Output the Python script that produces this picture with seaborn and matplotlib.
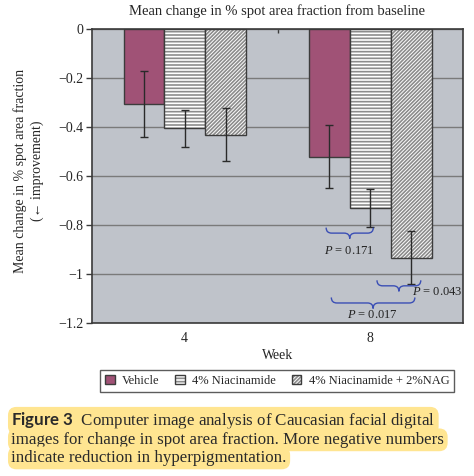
import numpy as np
import pandas as pd
import matplotlib
matplotlib.use('Agg')
import matplotlib.pyplot as plt
import seaborn as sns
from matplotlib.colors import to_rgba
from matplotlib.path import Path
from matplotlib.patches import PathPatch
from matplotlib.ticker import MultipleLocator, FuncFormatter

# values
weeks = ['4', '8']
treatments = ['Vehicle', '4% Niacinamide', '4% Niacinamide + 2%NAG']
vehicle = [-0.305, -0.52]
niacinamide = [-0.405, -0.73]
niacinamide_nag = [-0.432, -0.932]
vehicle_err = [0.135, 0.13]
niacinamide_err = [0.075, 0.077]
niacinamide_nag_err = [0.108, 0.107]

# week 8 pairwise comparisons (treatment index a, treatment index b, P)
pairs = [(0, 1), (1, 2), (0, 2)]
p_values = [0.171, 0.043, 0.017]

caption = ['Computer image analysis of Caucasian facial digital',
           'images for change in spot area fraction. More negative numbers',
           'indicate reduction in hyperpigmentation.']

means = [vehicle, niacinamide, niacinamide_nag]
errs = [vehicle_err, niacinamide_err, niacinamide_nag_err]
df = pd.DataFrame({
    'week': [w for _ in treatments for w in weeks],
    'treatment': [t for t in treatments for _ in weeks],
    'change': [v for m in means for v in m],
})

sns.set_theme(style='white')
plt.rcParams['font.family'] = ['Liberation Serif', 'DejaVu Serif']
plt.rcParams['mathtext.fontset'] = 'custom'
plt.rcParams['mathtext.rm'] = 'Liberation Serif'
plt.rcParams['mathtext.it'] = 'Liberation Serif:italic'
plt.rcParams['mathtext.bf'] = 'Lato:bold'
plt.rcParams['hatch.linewidth'] = 1.2

fig = plt.figure(figsize=(4.74, 4.76), dpi=100)
ax = fig.add_axes([0.194, 0.321, 0.783, 0.618])

bar_colors = ['#A05276', 'white', 'white']
sns.barplot(data=df, x='week', y='change', hue='treatment', order=weeks,
            hue_order=treatments, palette=bar_colors, saturation=1,
            width=0.66, errorbar=None, edgecolor='#3c3c3c', linewidth=1.0,
            legend=False, ax=ax)

bars = list(ax.containers)
hatches = ['', '-----', '/////////']
hatch_grey = to_rgba('#8c8c8c')
centers = []
for cont, hatch, m, e in zip(bars, hatches, means, errs):
    xs = []
    for p in cont.patches:
        p.set_hatch(hatch)
        if hasattr(p, 'set_hatchcolor'):
            p.set_hatchcolor(hatch_grey)
        else:
            p._hatch_color = hatch_grey
        xs.append(p.get_x() + p.get_width() / 2)
    centers.append(xs)
    ax.errorbar(xs, m, yerr=e, fmt='none', ecolor='#2a2a2a', elinewidth=1,
                capsize=3, capthick=1, zorder=5)

ax.set_facecolor('#BFC3CA')
ax.set_ylim(-1.2, 0)
ax.set_xlim(-0.5, 1.5)
ax.yaxis.set_major_locator(MultipleLocator(0.2))
ax.yaxis.set_major_formatter(FuncFormatter(
    lambda v, _: '0' if abs(v) < 1e-9 else f'{v:g}'.replace('-', '\u2212')))
ax.yaxis.grid(True, color='#7a7a7a', lw=1)
ax.set_axisbelow(True)
for s in ax.spines.values():
    s.set_color('#3a3a3a')
    s.set_linewidth(1.2)
ax.tick_params(axis='y', which='major', left=True, direction='out', length=4,
               width=1, color='#3a3a3a', pad=2, labelsize=10)
ax.tick_params(axis='x', which='major', bottom=False, length=0, pad=6,
               labelsize=10)
ax.set_xticks([0.5], minor=True)
ax.tick_params(axis='x', which='minor', top=True, bottom=False,
               direction='in', length=3, width=1, color='#3a3a3a')
ax.set_xlabel('Week', fontsize=10, labelpad=3)
ax.set_ylabel('Mean change in % spot area fraction\n(\u2190 improvement)',
              fontsize=10, linespacing=1.35)
ax.yaxis.set_label_coords(-0.13, 0.517)
fig.text(0.585, 0.977, 'Mean change in % spot area fraction from baseline',
         ha='center', va='center', fontsize=10.5)


def brace(x0, x1, y, h, r=0.03):
    xm = (x0 + x1) / 2
    verts = [(x0, y), (x0, y - h / 2), (x0 + r, y - h / 2),
             (xm - r, y - h / 2),
             (xm, y - h / 2), (xm, y - h),
             (xm, y - h / 2), (xm + r, y - h / 2),
             (x1 - r, y - h / 2),
             (x1, y - h / 2), (x1, y)]
    codes = [Path.MOVETO, Path.CURVE3, Path.CURVE3, Path.LINETO,
             Path.CURVE3, Path.CURVE3, Path.CURVE3, Path.CURVE3,
             Path.LINETO, Path.CURVE3, Path.CURVE3]
    ax.add_patch(PathPatch(Path(verts, codes), fill=False, ec='#3B4FB5',
                           lw=1.0, zorder=6))


brace_tops = [-0.81, -1.025, -1.095]
brace_shift = [(-0.018, 0.016), (0.036, 0.052), (0.01, 0.02)]
label_pos = [(-0.115, -0.905, 'center'), (0.225, -1.072, 'left'),
             (0.01, -1.167, 'center')]
for (a, b), pv, top, (s0, s1), (dx, ly, ha) in zip(pairs, p_values, brace_tops,
                                                   brace_shift, label_pos):
    brace(centers[a][1] + s0, centers[b][1] + s1, top, 0.045)
    ax.text(1 + dx, ly, f'$P$ = {pv:.3f}', ha=ha, va='center', fontsize=9,
            color='#222222', zorder=7)

handles = [c.patches[0] for c in bars]
leg = fig.legend(handles, treatments, loc='center', bbox_to_anchor=(0.585, 0.199),
                 ncol=3, frameon=True, fancybox=False, edgecolor='#333333',
                 fontsize=9, handlelength=0.75, handleheight=0.75,
                 handletextpad=0.6, columnspacing=1.25, borderpad=0.4,
                 borderaxespad=0)
leg.get_frame().set_linewidth(1.0)

hl = dict(boxstyle='round,pad=0.2,rounding_size=0.5', fc='#FFE591', ec='none')
ys = [0.116, 0.076, 0.038]
lines = [r'$\mathbf{Figure\ 3}$  ' + caption[0]] + caption[1:]
for y, line in zip(ys, lines):
    fig.text(0.024, y, line, ha='left', va='center', fontsize=12.2,
             color='#2a2a2a', bbox=hl)

fig.savefig('out.png', dpi=100)
